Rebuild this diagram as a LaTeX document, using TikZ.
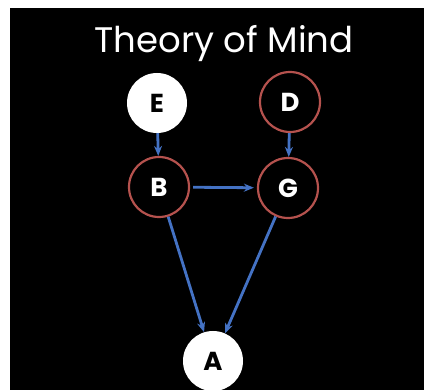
\documentclass[tikz,border=0pt]{standalone}
\usepackage{fontspec}
\setmainfont{Poppins}
\usepackage{tikz}
\usetikzlibrary{arrows.meta, positioning}
\definecolor{tomred}{HTML}{B5524E}
\definecolor{tomblue}{HTML}{4472C4}
\tikzset{
  hidden/.style={circle, draw=tomred, line width=2.2pt, fill=black, text=white,
                 minimum size=60pt, inner sep=0pt, font=\fontsize{26}{28}\selectfont\bfseries},
  observed/.style={circle, fill=white, text=black,
                   minimum size=60pt, inner sep=0pt, font=\fontsize{26}{28}\selectfont\bfseries},
  arr/.style={-{Stealth[length=10pt, width=8pt]}, line width=2.8pt, tomblue},
}

\begin{document}
\begin{tikzpicture}[x=1pt, y=-1pt]

  \useasboundingbox (0,0) rectangle (424,390);
  \fill[black] (10,8) rectangle (424,390);

  % Title
  \node[text=white, font=\fontsize{35.5}{38}\selectfont] (title) at (224,44) {Theory of Mind};

  % Top row
  \node[observed] (E) at (157,103) {E};
  \node[hidden] (D) at (290,102) {D};

  % Middle row
  \node[hidden] (B) at (159,187) {B};
  \node[hidden] (G) at (288,188) {G};

  % Action
  \node[observed] (A) at (213,361) {A};

  % Arrows
  \draw[arr] (E) -- (B);
  \draw[arr] (D) -- (G);
  \draw[arr, shorten <=3pt, shorten >=3pt] (B) -- (G);
  \draw[arr] (B) -- (A);
  \draw[arr] (G) -- (A);

\end{tikzpicture}
\end{document}
